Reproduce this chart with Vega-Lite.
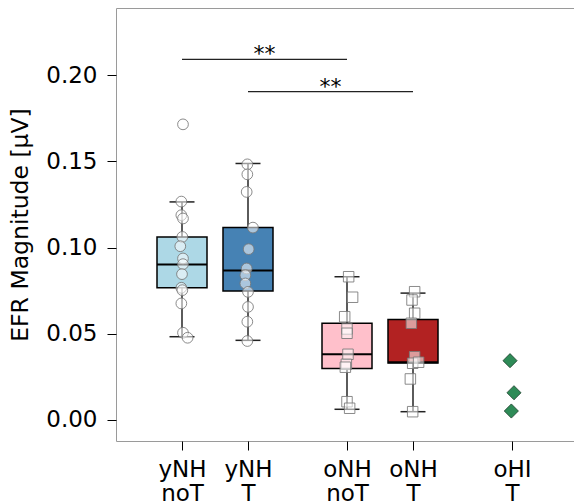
{
  "$schema": "https://vega.github.io/schema/vega-lite/v6.json",
  "width": 462,
  "height": 433,
  "autosize": {"type": "none"},
  "padding": {"left": 116, "top": 8, "right": 0, "bottom": 63},
  "background": "white",
  "config": {
    "view": {"stroke": "#9a9a9a", "strokeWidth": 1},
    "font": "DejaVu Sans",
    "axis": {"labelFont": "DejaVu Sans", "titleFont": "DejaVu Sans", "labelFontSize": 23, "titleFontSize": 23.5, "titleFontWeight": "normal", "labelColor": "#000", "titleColor": "#000", "tickColor": "#000", "tickWidth": 1, "tickSize": 9, "domain": false, "grid": false}
  },
  "datasets": {
    "boxes": [
      {"group": "yNH noT", "x": 0, "lower": 0.0483, "q1": 0.0767, "median": 0.0902, "q3": 0.1062, "upper": 0.1265},
      {"group": "yNH T", "x": 1, "lower": 0.0462, "q1": 0.0748, "median": 0.0867, "q3": 0.1116, "upper": 0.1488},
      {"group": "oNH noT", "x": 2.5, "lower": 0.0062, "q1": 0.0299, "median": 0.0381, "q3": 0.0561, "upper": 0.0831},
      {"group": "oNH T", "x": 3.5, "lower": 0.0048, "q1": 0.0331, "median": 0.0335, "q3": 0.0583, "upper": 0.0736}
    ],
    "young": [
      {"group": "yNH noT", "x": 0.015, "y": 0.1715},
      {"group": "yNH noT", "x": -0.01, "y": 0.1267},
      {"group": "yNH noT", "x": -0.01, "y": 0.1188},
      {"group": "yNH noT", "x": 0.015, "y": 0.1169},
      {"group": "yNH noT", "x": 0.005, "y": 0.1062},
      {"group": "yNH noT", "x": -0.026, "y": 0.1008},
      {"group": "yNH noT", "x": 0.015, "y": 0.0937},
      {"group": "yNH noT", "x": 0.015, "y": 0.0904},
      {"group": "yNH noT", "x": 0.0, "y": 0.0846},
      {"group": "yNH noT", "x": -0.01, "y": 0.0767},
      {"group": "yNH noT", "x": 0.005, "y": 0.0753},
      {"group": "yNH noT", "x": -0.01, "y": 0.0676},
      {"group": "yNH noT", "x": 0.015, "y": 0.0506},
      {"group": "yNH noT", "x": 0.085, "y": 0.0477},
      {"group": "yNH T", "x": 0.99, "y": 0.1483},
      {"group": "yNH T", "x": 0.99, "y": 0.1425},
      {"group": "yNH T", "x": 0.98, "y": 0.1323},
      {"group": "yNH T", "x": 1.075, "y": 0.1116},
      {"group": "yNH T", "x": 1.01, "y": 0.0991},
      {"group": "yNH T", "x": 0.98, "y": 0.0879},
      {"group": "yNH T", "x": 0.96, "y": 0.084},
      {"group": "yNH T", "x": 0.96, "y": 0.0792},
      {"group": "yNH T", "x": 1.0, "y": 0.0743},
      {"group": "yNH T", "x": 1.0, "y": 0.0656},
      {"group": "yNH T", "x": 0.99, "y": 0.057},
      {"group": "yNH T", "x": 0.99, "y": 0.0458}
    ],
    "old": [
      {"group": "oNH noT", "x": 2.525, "y": 0.0831},
      {"group": "oNH noT", "x": 2.585, "y": 0.0712},
      {"group": "oNH noT", "x": 2.465, "y": 0.0599},
      {"group": "oNH noT", "x": 2.5, "y": 0.0528},
      {"group": "oNH noT", "x": 2.5, "y": 0.0503},
      {"group": "oNH noT", "x": 2.515, "y": 0.0381},
      {"group": "oNH noT", "x": 2.49, "y": 0.0323},
      {"group": "oNH noT", "x": 2.475, "y": 0.0306},
      {"group": "oNH noT", "x": 2.5, "y": 0.0106},
      {"group": "oNH noT", "x": 2.54, "y": 0.0068},
      {"group": "oNH T", "x": 3.525, "y": 0.0744},
      {"group": "oNH T", "x": 3.485, "y": 0.0696},
      {"group": "oNH T", "x": 3.525, "y": 0.0619},
      {"group": "oNH T", "x": 3.475, "y": 0.0561},
      {"group": "oNH T", "x": 3.525, "y": 0.0367},
      {"group": "oNH T", "x": 3.495, "y": 0.0329},
      {"group": "oNH T", "x": 3.585, "y": 0.0335},
      {"group": "oNH T", "x": 3.46, "y": 0.0238},
      {"group": "oNH T", "x": 3.495, "y": 0.0048}
    ],
    "ohi": [
      {"group": "oHI T", "x": 4.97, "y": 0.0344},
      {"group": "oHI T", "x": 5.03, "y": 0.0158},
      {"group": "oHI T", "x": 4.99, "y": 0.0052}
    ],
    "sig": [
      {"x": 0, "x2": 2.5, "mid": 1.25, "y": 0.2092, "label": "**"},
      {"x": 1, "x2": 3.5, "mid": 2.25, "y": 0.1905, "label": "**"}
    ]
  },
  "encoding": {
    "x": {
      "field": "x", "type": "quantitative",
      "scale": {"domain": [-1, 6], "nice": false, "zero": false, "padding": 0},
      "axis": {
        "title": null, "values": [0, 1, 2.5, 3.5, 5], "labelPadding": 8, "labelLineHeight": 24, "labelBaseline": "top",
        "labelExpr": "datum.value == 0 ? ['yNH', 'noT'] : datum.value == 1 ? ['yNH', 'T'] : datum.value == 2.5 ? ['oNH', 'noT'] : datum.value == 3.5 ? ['oNH', 'T'] : ['oHI', 'T']"
      }
    }
  },
  "layer": [
    {
      "data": {"name": "boxes"},
      "mark": {"type": "rule", "color": "#333333", "strokeWidth": 1.6},
      "encoding": {
        "y": {"field": "lower", "type": "quantitative", "scale": {"domain": [-0.0122, 0.239], "nice": false, "zero": false, "padding": 0},
          "axis": {"title": "EFR Magnitude [µV]", "values": [0, 0.05, 0.1, 0.15, 0.2], "format": ".2f", "labelPadding": 10, "titlePadding": 13}},
        "y2": {"field": "upper"}
      }
    },
    {
      "data": {"name": "boxes"},
      "mark": {"type": "bar", "width": 50, "stroke": "#000", "strokeWidth": 1.5, "opacity": 1},
      "encoding": {
        "y": {"field": "q1", "type": "quantitative", "scale": {"domain": [-0.0122, 0.239], "nice": false, "zero": false, "padding": 0},
          "axis": {"title": "EFR Magnitude [µV]", "values": [0, 0.05, 0.1, 0.15, 0.2], "format": ".2f", "labelPadding": 10, "titlePadding": 13}},
        "y2": {"field": "q3"},
        "color": {"field": "group", "type": "nominal", "legend": null,
          "scale": {"domain": ["yNH noT", "yNH T", "oNH noT", "oNH T"], "range": ["#ADD8E6", "#4682B4", "#FFC0CB", "#B22222"]}}
      }
    },
    {
      "data": {"name": "boxes"},
      "mark": {"type": "tick", "orient": "horizontal", "size": 50, "thickness": 2, "color": "#000", "opacity": 1},
      "encoding": {
        "y": {"field": "median", "type": "quantitative", "scale": {"domain": [-0.0122, 0.239], "nice": false, "zero": false, "padding": 0},
          "axis": {"title": "EFR Magnitude [µV]", "values": [0, 0.05, 0.1, 0.15, 0.2], "format": ".2f", "labelPadding": 10, "titlePadding": 13}}
      }
    },
    {
      "data": {"name": "boxes"},
      "mark": {"type": "tick", "orient": "horizontal", "size": 25, "thickness": 1.5, "color": "#222", "opacity": 1},
      "encoding": {
        "y": {"field": "lower", "type": "quantitative", "scale": {"domain": [-0.0122, 0.239], "nice": false, "zero": false, "padding": 0},
          "axis": {"title": "EFR Magnitude [µV]", "values": [0, 0.05, 0.1, 0.15, 0.2], "format": ".2f", "labelPadding": 10, "titlePadding": 13}}
      }
    },
    {
      "data": {"name": "boxes"},
      "mark": {"type": "tick", "orient": "horizontal", "size": 25, "thickness": 1.5, "color": "#222", "opacity": 1},
      "encoding": {
        "y": {"field": "upper", "type": "quantitative", "scale": {"domain": [-0.0122, 0.239], "nice": false, "zero": false, "padding": 0},
          "axis": {"title": "EFR Magnitude [µV]", "values": [0, 0.05, 0.1, 0.15, 0.2], "format": ".2f", "labelPadding": 10, "titlePadding": 13}}
      }
    },
    {
      "data": {"name": "young"},
      "mark": {"type": "point", "shape": "circle", "size": 115, "filled": true, "fill": "#ffffff", "fillOpacity": 0.55, "stroke": "#777777", "strokeOpacity": 0.85, "strokeWidth": 1},
      "encoding": {
        "y": {"field": "y", "type": "quantitative", "scale": {"domain": [-0.0122, 0.239], "nice": false, "zero": false, "padding": 0},
          "axis": {"title": "EFR Magnitude [µV]", "values": [0, 0.05, 0.1, 0.15, 0.2], "format": ".2f", "labelPadding": 10, "titlePadding": 13}}
      }
    },
    {
      "data": {"name": "old"},
      "mark": {"type": "point", "shape": "square", "size": 110, "filled": true, "fill": "#ffffff", "fillOpacity": 0.55, "stroke": "#777777", "strokeOpacity": 0.85, "strokeWidth": 1},
      "encoding": {
        "y": {"field": "y", "type": "quantitative", "scale": {"domain": [-0.0122, 0.239], "nice": false, "zero": false, "padding": 0},
          "axis": {"title": "EFR Magnitude [µV]", "values": [0, 0.05, 0.1, 0.15, 0.2], "format": ".2f", "labelPadding": 10, "titlePadding": 13}}
      }
    },
    {
      "data": {"name": "ohi"},
      "mark": {"type": "point", "shape": "diamond", "size": 200, "filled": true, "fill": "#2E8B57", "fillOpacity": 1, "stroke": "#1a3d2a", "strokeWidth": 0.8, "opacity": 1},
      "encoding": {
        "y": {"field": "y", "type": "quantitative", "scale": {"domain": [-0.0122, 0.239], "nice": false, "zero": false, "padding": 0},
          "axis": {"title": "EFR Magnitude [µV]", "values": [0, 0.05, 0.1, 0.15, 0.2], "format": ".2f", "labelPadding": 10, "titlePadding": 13}}
      }
    },
    {
      "data": {"name": "sig"},
      "mark": {"type": "rule", "color": "#222222", "strokeWidth": 1.3},
      "encoding": {
        "x2": {"field": "x2"},
        "y": {"field": "y", "type": "quantitative", "scale": {"domain": [-0.0122, 0.239], "nice": false, "zero": false, "padding": 0},
          "axis": {"title": "EFR Magnitude [µV]", "values": [0, 0.05, 0.1, 0.15, 0.2], "format": ".2f", "labelPadding": 10, "titlePadding": 13}}
      }
    },
    {
      "data": {"name": "sig"},
      "mark": {"type": "text", "fontSize": 22, "font": "DejaVu Sans", "color": "#000", "baseline": "alphabetic", "align": "center", "dy": 2},
      "encoding": {
        "x": {"field": "mid", "type": "quantitative", "scale": {"domain": [-1, 6], "nice": false, "zero": false, "padding": 0},
          "axis": {
            "title": null, "values": [0, 1, 2.5, 3.5, 5], "labelPadding": 8, "labelLineHeight": 24, "labelBaseline": "top",
            "labelExpr": "datum.value == 0 ? ['yNH', 'noT'] : datum.value == 1 ? ['yNH', 'T'] : datum.value == 2.5 ? ['oNH', 'noT'] : datum.value == 3.5 ? ['oNH', 'T'] : ['oHI', 'T']"
          }},
        "y": {"field": "y", "type": "quantitative", "scale": {"domain": [-0.0122, 0.239], "nice": false, "zero": false, "padding": 0},
          "axis": {"title": "EFR Magnitude [µV]", "values": [0, 0.05, 0.1, 0.15, 0.2], "format": ".2f", "labelPadding": 10, "titlePadding": 13}},
        "text": {"field": "label"}
      }
    }
  ]
}
